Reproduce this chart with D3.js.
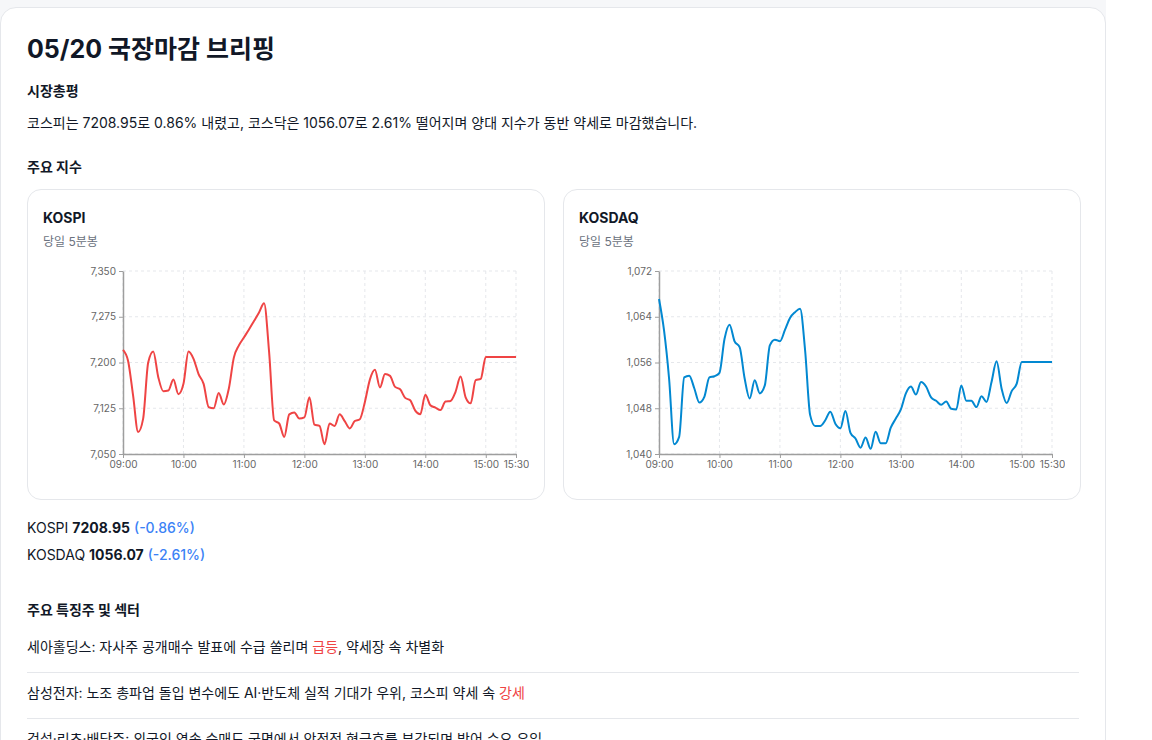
<html>
<head>
<meta charset="utf-8">
<style>
  body {
    margin: 0;
    background: #ffffff;
    font-family: Inter, "Noto Sans CJK KR", sans-serif;
    color: #111827;
  }
  .page {
    width: 1106px;
    background: #f6f7f9;
    padding-top: 7px;
  }
  .card {
    background: #fff;
    border: 1px solid #e5e7eb;
    border-radius: 16px;
    padding: 26px 26px 40px 26px;
    width: 1052px;
    height: 760px;
    box-sizing: content-box;
  }
  h1 {
    font-size: 25px;
    font-weight: 700;
    margin: 0 0 17px 0;
    line-height: 30px;
  }
  h3 {
    font-size: 14px;
    font-weight: 700;
    margin: 0;
    line-height: 20px;
  }
  p.summary {
    font-size: 14px;
    margin: 12px 0 24px 0;
    line-height: 20px;
  }
  .charts {
    display: flex;
    gap: 18px;
    margin-top: 12px;
  }
  .chartCard {
    width: 518px;
    height: 311px;
    border: 1px solid #e5e7eb;
    border-radius: 14px;
    box-sizing: border-box;
    padding: 18px 16px 16px 15px;
  }
  .chartCard .name {
    font-size: 14px;
    font-weight: 700;
    line-height: 20px;
  }
  .chartCard .sub {
    font-size: 12px;
    color: #6b7280;
    line-height: 16px;
    margin-top: 6px;
  }
  .quotes {
    font-size: 14px;
    margin-top: 14px;
    line-height: 27px;
  }
  .quotes b { font-weight: 700; }
  .quotes .chg { color: #3b82f6; font-weight: 500; }
  .sectors { margin-top: 32px; }
  .item {
    font-size: 14px;
    line-height: 20px;
    padding: 10px 0 15px 0;
    border-bottom: 1px solid #e5e7eb;
  }
  .item .up { color: #ef4444; }
  .grid line { stroke: #e5e7eb; stroke-dasharray: 3,3; }
  .axis path, .axis line { stroke: #9e9e9e; }
  .axis path { stroke-width: 1.5; }
  .axis text { fill: #666; font-size: 10px; font-family: Inter, sans-serif; }
</style>
<script src="https://cdn.jsdelivr.net/npm/d3@7"></script>
</head>
<body>
<div class="page">
  <div class="card">
    <h1>05/20 국장마감 브리핑</h1>
    <h3>시장총평</h3>
    <p class="summary">코스피는 7208.95로 0.86% 내렸고, 코스닥은 1056.07로 2.61% 떨어지며 양대 지수가 동반 약세로 마감했습니다.</p>
    <h3>주요 지수</h3>
    <div class="charts">
      <div class="chartCard">
        <div class="name">KOSPI</div>
        <div class="sub">당일 5분봉</div>
        <svg id="kospiChart"></svg>
      </div>
      <div class="chartCard">
        <div class="name">KOSDAQ</div>
        <div class="sub">당일 5분봉</div>
        <svg id="kosdaqChart"></svg>
      </div>
    </div>
    <div class="quotes">
      <div>KOSPI <b>7208.95</b> <span class="chg">(-0.86%)</span></div>
      <div>KOSDAQ <b>1056.07</b> <span class="chg">(-2.61%)</span></div>
    </div>
    <div class="sectors">
      <h3>주요 특징주 및 섹터</h3>
      <div class="item" style="padding-top:17px">세아홀딩스: 자사주 공개매수 발표에 수급 쏠리며 <span class="up">급등</span>, 약세장 속 차별화</div>
      <div class="item">삼성전자: 노조 총파업 돌입 변수에도 AI·반도체 실적 기대가 우위, 코스피 약세 속 <span class="up">강세</span></div>
      <div class="item" style="border-bottom:none">건설·리츠·배당주: 외국인 연속 순매도 국면에서 안정적 현금흐름 부각되며 방어 수요 유입</div>
    </div>
  </div>
</div>

<script>
  // 5분봉, 09:00 부터 15:30 까지
  let startMinute = 9 * 60
  let stepMinutes = 5

  let kospiValues = [
    7220.7, 7203, 7146, 7086, 7108, 7200, 7218, 7176, 7153, 7154, 7172, 7148,
    7165, 7218, 7206, 7181, 7165, 7127, 7125, 7150, 7131, 7157, 7208, 7228,
    7241, 7254, 7268, 7282, 7297, 7217, 7105, 7100, 7078, 7115, 7118, 7108,
    7110, 7143, 7098, 7096, 7066, 7100, 7096, 7115, 7104, 7092, 7104, 7107,
    7135, 7172, 7188, 7159, 7181, 7178, 7160, 7156, 7142, 7138, 7121, 7115,
    7147, 7130, 7126, 7122, 7136, 7137, 7152, 7177, 7143, 7133, 7171, 7173,
    7208.95, 7208.95, 7208.95, 7208.95, 7208.95, 7208.95, 7208.95
  ]

  let kosdaqValues = [
    1067.1, 1061.6, 1053.2, 1041.7, 1043.0, 1053.4, 1053.7, 1051.5, 1049.0, 1050.0, 1053.4, 1053.6,
    1054.2, 1060.1, 1062.6, 1059.7, 1058.7, 1053.2, 1049.7, 1052.9, 1050.6, 1052.0, 1059.0, 1060.0,
    1059.7, 1061.7, 1063.8, 1064.8, 1065.4, 1058.1, 1046.8, 1044.9, 1044.9, 1045.9, 1047.4, 1045.3,
    1044.5, 1047.5, 1043.7, 1042.7, 1041.1, 1042.9, 1040.9, 1043.9, 1041.9, 1041.9, 1044.6, 1046.2,
    1047.8, 1050.6, 1051.8, 1050.4, 1052.6, 1051.8, 1049.9, 1049.3, 1048.6, 1049.2, 1047.9, 1047.8,
    1052.0, 1049.3, 1049.3, 1048.2, 1050.1, 1049.1, 1052.6, 1056.2, 1051.4, 1048.9, 1051.0, 1052.3,
    1056.07, 1056.07, 1056.07, 1056.07, 1056.07, 1056.07, 1056.07
  ]

  let timeTicks = ["09:00", "10:00", "11:00", "12:00", "13:00", "14:00", "15:00", "15:30"]
  let kospiTicks = [7050, 7125, 7200, 7275, 7350]
  let kosdaqTicks = [1040, 1048, 1056, 1064, 1072]

  function toMinute(label) {
    let parts = label.split(":")
    return +parts[0] * 60 + +parts[1]
  }

  function chartConfig(id) {
    let width = 486
    let height = 228
    let margin = { top: 13, bottom: 32, left: 80, right: 13 }
    let bodyWidth = width - margin.left - margin.right
    let bodyHeight = height - margin.top - margin.bottom
    let container = d3.select(id)
      .attr("width", width)
      .attr("height", height)
      .style("display", "block")
      .style("margin-top", "8px")
    return { width, height, margin, bodyWidth, bodyHeight, container }
  }

  function drawChart(id, values, yTicks, color) {
    let config = chartConfig(id)
    let { margin, bodyWidth, bodyHeight, container } = config

    let xScale = d3.scaleLinear()
      .domain([toMinute(timeTicks[0]), toMinute(timeTicks[timeTicks.length - 1])])
      .range([0, bodyWidth])

    let yScale = d3.scaleLinear()
      .domain([yTicks[0], yTicks[yTicks.length - 1]])
      .range([bodyHeight, 0])

    let body = container.append("g")
      .attr("transform", `translate(${margin.left},${margin.top})`)

    // grid
    let grid = body.append("g").attr("class", "grid")
    grid.selectAll(".v").data(timeTicks).enter().append("line")
      .attr("x1", d => xScale(toMinute(d)))
      .attr("x2", d => xScale(toMinute(d)))
      .attr("y1", 0)
      .attr("y2", bodyHeight)
    grid.selectAll(".h").data(yTicks).enter().append("line")
      .attr("x1", 0)
      .attr("x2", bodyWidth)
      .attr("y1", d => yScale(d))
      .attr("y2", d => yScale(d))

    let axisX = d3.axisBottom(xScale)
      .tickValues(timeTicks.map(toMinute))
      .tickFormat((d, i) => timeTicks[i])
      .tickSize(4)
      .tickSizeOuter(0)
    body.append("g")
      .attr("class", "axis")
      .attr("transform", `translate(0,${bodyHeight})`)
      .call(axisX)

    let axisY = d3.axisLeft(yScale)
      .tickValues(yTicks)
      .tickFormat(d3.format(","))
      .tickSize(4)
      .tickSizeOuter(0)
    body.append("g")
      .attr("class", "axis")
      .call(axisY)

    let line = d3.line()
      .x((d, i) => xScale(startMinute + i * stepMinutes))
      .y(d => yScale(d))
      .curve(d3.curveMonotoneX)

    body.append("path")
      .datum(values)
      .attr("d", line)
      .attr("fill", "none")
      .attr("stroke", color)
      .attr("stroke-width", 2)
  }

  drawChart("#kospiChart", kospiValues, kospiTicks, "#ef4444")
  drawChart("#kosdaqChart", kosdaqValues, kosdaqTicks, "#0288d1")
</script>
</body>
</html>
